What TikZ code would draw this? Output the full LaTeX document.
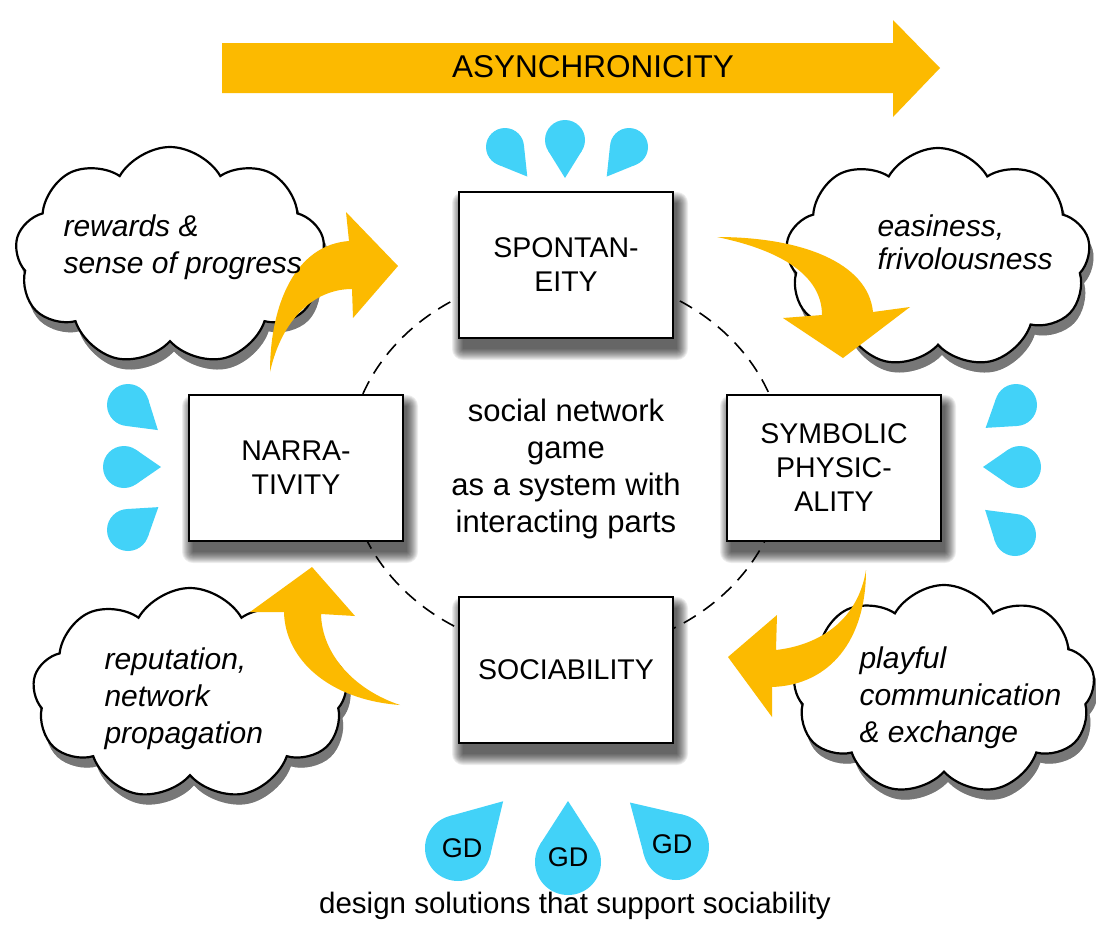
\documentclass[tikz,border=0pt]{standalone}
\usepackage{fontspec}
\setmainfont{Liberation Sans}
\usetikzlibrary{shapes.symbols}
\definecolor{arrowc}{RGB}{252,186,0}
\definecolor{dropc}{RGB}{66,210,248}
\newcommand{\wdrop}[5]{%
  \fill[dropc] (#1,#2) circle[radius=#3];
  \fill[dropc,shift={(#1,#2)}] (#4:#5) -- ({#4+acos(#3/#5)}:#3) -- ({#4-acos(#3/#5)}:#3) -- cycle;}
\newcommand{\boxshade}[2]{%
  \foreach \k in {0,...,11} {\fill[black, opacity=0.07, rounded corners=\k pt]
    ({#1-107+4-\k},{#2-73+11-\k}) rectangle ({#1+107+4+\k},{#2+73+11+\k});}}
\newcommand{\cloudshade}[4]{%
  \foreach \k in {0,...,11} {\node[cloud, cloud puffs=9, cloud puff arc=120, fill=black, opacity=0.06,
    minimum width={#3+2*\k}, minimum height={#4+2*\k}] at ({#1+4},{#2+10}) {};}}
\tikzset{
  partbox/.style={draw=black, line width=2.4pt, fill=white, minimum width=214pt, minimum height=146pt,
    align=center, font=\fontsize{28.5}{34}\selectfont},
  thought/.style={cloud, cloud puffs=9, cloud puff arc=120, draw=black, line width=2.2pt, fill=white},
  thoughttext/.style={anchor=west, align=left, font=\fontsize{30}{37}\selectfont\itshape},
  flow/.style={fill=arrowc},
  gd/.style={font=\fontsize{27}{30}\selectfont}
}
\begin{document}
\begin{tikzpicture}[x=1pt,y=-1pt]
\useasboundingbox[fill=white] (0,0) rectangle (1096,927);

% big arrow
\fill[flow] (222,43) -- (893,43) -- (893,20) -- (940,68) -- (893,117) -- (893,93) -- (222,93) -- cycle;
\node[font=\fontsize{31.5}{34}\selectfont] (asyn) at (593,67) {ASYNCHRONICITY};

% clouds
\cloudshade{170}{256}{310}{218}
\cloudshade{938}{258}{305}{220}
\cloudshade{190}{694}{315}{212}
\cloudshade{944}{690}{302}{210}
\node[thought, minimum width=310pt, minimum height=218pt] (c1) at (170,256) {};
\node[thought, minimum width=305pt, minimum height=220pt] (c2) at (938,258) {};
\node[thought, minimum width=315pt, minimum height=212pt] (c3) at (190,694) {};
\node[thought, minimum width=302pt, minimum height=210pt] (c4) at (944,690) {};

% dashed ring
\draw[dash pattern=on 14pt off 9pt, line width=1.6pt] (566,463) ellipse[x radius=218, y radius=190];

% boxes
\boxshade{566}{265}
\boxshade{296}{468}
\boxshade{834}{468}
\boxshade{566}{670}
\node[partbox] (spont) at (566,265) {SPONTAN-\\EITY};
\node[partbox] (narr) at (296,468) {NARRA-\\TIVITY};
\node[partbox] (symb) at (834,468) {SYMBOLIC\\PHYSIC-\\ALITY};
\node[partbox] (soc) at (566,670) {SOCIABILITY};

\node[align=center, font=\fontsize{31}{37}\selectfont] (ctr) at (566,469) {social network\\game\\as a system with\\interacting parts};

% curved arrows
\fill[flow] (270,372) .. controls (270,305) and (295,245) .. (349,241) -- (346,212) -- (398,266) -- (353,318) -- (352,289) .. controls (315,289) and (282,318) .. (270,372) -- cycle;
\fill[flow] (717,237) .. controls (800,237) and (868,262) .. (873,312) -- (910,307) -- (843,358) -- (783,318) -- (822,315) .. controls (822,275) and (780,250) .. (717,237) -- cycle;
\fill[flow] (866,570) .. controls (866,640) and (830,685) .. (772,687) -- (772,717) -- (728,657) -- (777,615) -- (776,650) .. controls (820,645) and (858,620) .. (866,570) -- cycle;
\fill[flow] (400,705) .. controls (330,700) and (285,660) .. (284,612) -- (250,612) -- (312,567) -- (355,616) -- (321,614) .. controls (322,655) and (355,690) .. (400,705) -- cycle;

% cloud texts
\node[thoughttext] (t1) at (60,247) {rewards \&\\sense of progress};
\node[thoughttext, font=\fontsize{30}{33}\selectfont\itshape] (t2) at (874,242) {easiness,\\frivolousness};
\node[thoughttext] (t3) at (101,699) {reputation,\\network\\propagation};
\node[thoughttext] (t4) at (856,698) {playful\\communication\\\& exchange};

% drops top
\wdrop{505}{147}{19}{53}{37}
\wdrop{565}{140}{20}{90}{38}
\wdrop{629}{147}{19}{127}{37}
% drops left
\wdrop{128}{405}{21}{40}{39}
\wdrop{124}{467}{21}{0}{37}
\wdrop{128}{530}{21}{-37}{38}
% drops right
\wdrop{1016}{405}{21}{143}{38}
\wdrop{1020}{467}{21}{180}{37}
\wdrop{1015}{535}{21}{-140}{39}
% drops bottom
\wdrop{458}{848}{33}{-46}{65}
\wdrop{568}{862}{33}{-90}{61}
\wdrop{676}{847}{33}{-136}{64}
\node[gd] (gd1) at (462,848) {GD};
\node[gd] (gd2) at (568,857) {GD};
\node[gd] (gd3) at (672,844) {GD};

\node[font=\fontsize{29.5}{32}\selectfont] (cap) at (575,906) {design solutions that support sociability};
\end{tikzpicture}
\end{document}
